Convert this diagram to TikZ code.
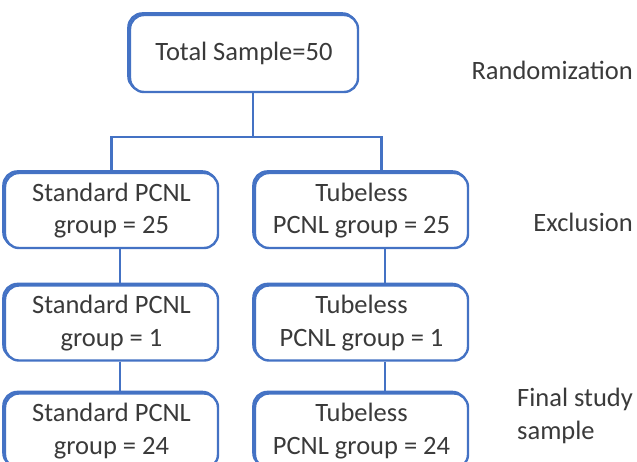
\documentclass[tikz,border=0pt]{standalone}
\usepackage{fontspec}
\setmainfont{Carlito}
\definecolor{boxblue}{RGB}{68,114,196}
\definecolor{txtgray}{RGB}{58,58,58}
\tikzset{
	grpbox/.style={draw=boxblue,fill=white,line width=2.4pt,rounded corners=14pt,
		minimum width=213pt,minimum height=75pt,align=center,inner sep=0pt,
		preaction={draw=boxblue,line width=2.4pt,transform canvas={shift={(-1.6pt,1.6pt)}}}},
	sidelbl/.style={inner sep=0pt,align=left}
}
\begin{document}
\begin{tikzpicture}[x=1pt,y=-1pt,line width=2.4pt,font=\fontsize{26.5}{32.5}\selectfont,text=txtgray]
				\useasboundingbox (0,0) rectangle (637,461);
				\clip (0,0) rectangle (637,461);
				\node[grpbox,minimum width=228pt,minimum height=77pt] (tot) at (244,53.5) {Total Sample=50};
				\node[grpbox] (s1) at (111.5,210.5) {Standard PCNL\\group = 25};
				\node[grpbox] (t1) at (361.5,210.5) {Tubeless\\PCNL group = 25};
				\node[grpbox] (s2) at (111.5,323) {Standard PCNL\\group = 1};
				\node[grpbox] (t2) at (361.5,323) {Tubeless\\PCNL group = 1};
				\node[grpbox] (s3) at (111.5,431) {Standard PCNL\\group = 24};
				\node[grpbox] (t3) at (361.5,431) {Tubeless\\PCNL group = 24};
				\coordinate (split) at (253,137);
				\draw[boxblue] ([xshift=9pt]tot.south) -- (split);
				\draw[boxblue] (s1.north) |- (split) -| ([xshift=20pt]t1.north);
				\draw[boxblue] ([xshift=8.5pt]s1.south) -- ([xshift=8.5pt]s2.north);
				\draw[boxblue] ([xshift=23.5pt]t1.south) -- ([xshift=23.5pt]t2.north);
				\draw[boxblue] ([xshift=8.5pt]s2.south) -- ([xshift=8.5pt]s3.north);
				\draw[boxblue] ([xshift=23.5pt]t2.south) -- ([xshift=23.5pt]t3.north);
				\node[sidelbl,anchor=east] (rand) at (634,70) {Randomization};
				\node[sidelbl,anchor=east] (excl) at (634,222) {Exclusion};
				\node[sidelbl,anchor=west] (fin) at (516,416) {Final study\\sample};
\end{tikzpicture}
\end{document}
